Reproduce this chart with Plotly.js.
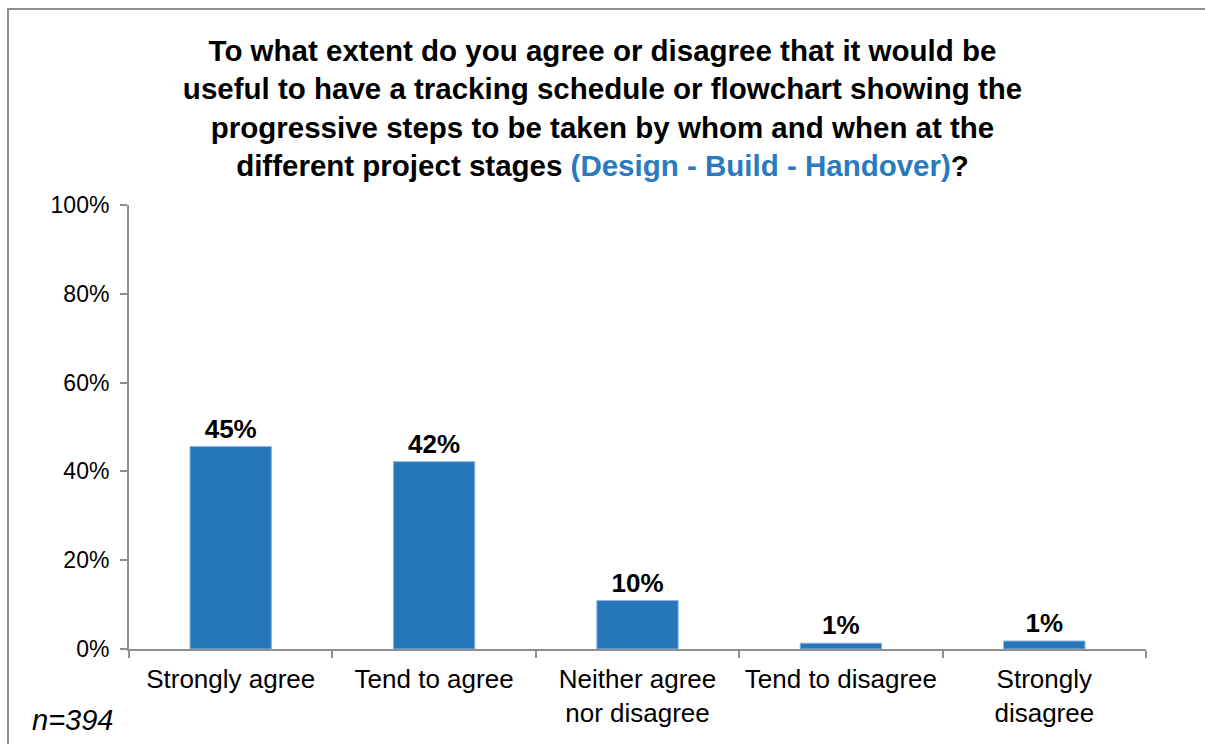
<!DOCTYPE html>
<html>
<head>
<meta charset="utf-8">
<script src="https://cdn.plot.ly/plotly-3.0.1.min.js"></script>
<style>
  html, body { margin: 0; padding: 0; background: #fff; }
  #wrap { position: relative; width: 1205px; height: 744px; overflow: hidden; }
  #chart { position: absolute; left: 0; top: 0; width: 1205px; height: 744px; }
  #frame { position: absolute; left: 7px; top: 8px; width: 1210px; height: 750px;
           border-left: 2px solid #8f8f8f; border-top: 2px solid #8f8f8f; pointer-events: none; }
</style>
</head>
<body>
<div id="wrap">
  <div id="chart"></div>
  <div id="frame"></div>
</div>
<script>
const categories = ["Strongly agree", "Tend to agree", "Neither agree<br>nor disagree", "Tend to disagree", "Strongly<br>disagree"];
const values = [45.6, 42.2, 10.9, 1.3, 1.8];
const valueLabels = ["45%", "42%", "10%", "1%", "1%"];
const yTickVals = [0, 20, 40, 60, 80, 100];
const yTickText = ["0%", "20%", "40%", "60%", "80%", "100%"];
const sampleNote = "n=394";

const FONT = '"Liberation Sans", Arial, sans-serif';

const trace = {
  type: "bar",
  x: categories,
  y: values,
  text: valueLabels,
  textposition: "outside",
  cliponaxis: false,
  textfont: { family: FONT, size: 26, color: "#000", weight: "bold" },
  marker: { color: "#2676BA", line: { color: "#8DB4E2", width: 1 } },
  hoverinfo: "skip"
};

const layout = {
  width: 1205,
  height: 744,
  margin: { l: 129, r: 59, t: 205, b: 95 },
  paper_bgcolor: "#fff",
  plot_bgcolor: "#fff",
  showlegend: false,
  bargap: 0.6,
  font: { family: FONT, color: "#000" },
  title: {
    text: "<b>To what extent do you agree or disagree that it would be<br>useful to have a tracking schedule or flowchart showing the<br>progressive steps to be taken by whom and when at the<br>different project stages <span style='color:#2A7AC0'>(Design - Build - Handover)</span>?</b>",
    font: { family: FONT, size: 29.5, color: "#000" },
    x: 0.5, xanchor: "center", xref: "container",
    y: 0.918, yanchor: "top", yref: "container"
  },
  xaxis: {
    type: "category",
    tickson: "boundaries",
    ticks: "outside",
    ticklen: 7,
    tickwidth: 2,
    tickcolor: "#8f8f8f",
    showline: true,
    linecolor: "#8f8f8f",
    linewidth: 2,
    showgrid: false,
    zeroline: false,
    ticklabelstandoff: 6,
    tickfont: { family: FONT, size: 26, color: "#000" },
    fixedrange: true
  },
  yaxis: {
    range: [0, 100],
    tickvals: yTickVals,
    ticktext: yTickText,
    ticks: "outside",
    ticklen: 7,
    tickwidth: 2,
    tickcolor: "#8f8f8f",
    showline: true,
    linecolor: "#8f8f8f",
    linewidth: 2,
    showgrid: false,
    zeroline: false,
    ticklabelstandoff: 6,
    tickfont: { family: FONT, size: 23, color: "#000" },
    fixedrange: true
  },
  annotations: [{
    text: "<i>" + sampleNote + "</i>",
    xref: "paper", yref: "paper",
    x: -0.097, xanchor: "left",
    y: -0.16, yanchor: "middle",
    showarrow: false,
    font: { family: FONT, size: 29, color: "#000" }
  }]
};

Plotly.newPlot("chart", [trace], layout, { displayModeBar: false, staticPlot: true });
</script>
</body>
</html>
